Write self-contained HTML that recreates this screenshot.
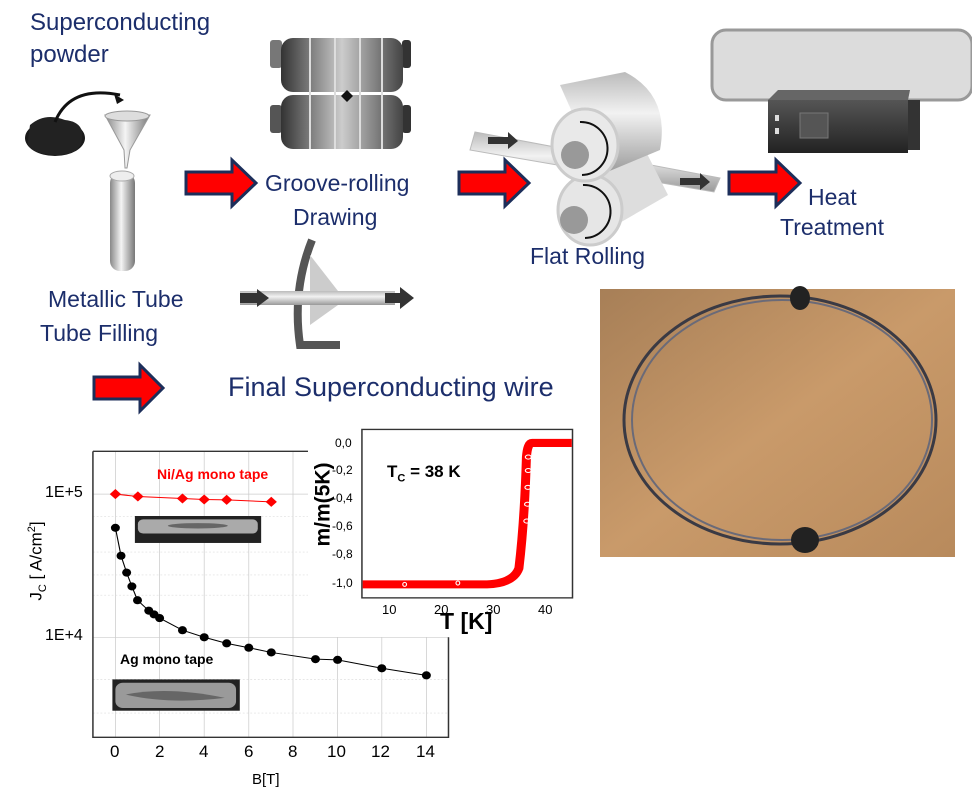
<!DOCTYPE html>
<html><head><meta charset="utf-8"><style>
body{margin:0;width:972px;height:801px;background:#fff;position:relative;overflow:hidden;font-family:"Liberation Sans",sans-serif}
.t{position:absolute;color:#1c2e6b;font-size:23px;white-space:nowrap;line-height:1}
.a{position:absolute;font-family:"Liberation Sans",sans-serif;white-space:nowrap;line-height:1}
svg{position:absolute;left:0;top:0}
</style></head><body>
<svg width="972" height="801" viewBox="0 0 972 801">
<defs>
<linearGradient id="cyl" x1="0" x2="1"><stop offset="0" stop-color="#888"/><stop offset=".45" stop-color="#f4f4f4"/><stop offset="1" stop-color="#777"/></linearGradient>
<linearGradient id="cylv" x1="0" y1="0" x2="0" y2="1"><stop offset="0" stop-color="#bbb"/><stop offset=".4" stop-color="#f2f2f2"/><stop offset="1" stop-color="#999"/></linearGradient>
<linearGradient id="roll" x1="0" x2="1"><stop offset="0" stop-color="#333"/><stop offset=".5" stop-color="#ccc"/><stop offset="1" stop-color="#444"/></linearGradient>
<linearGradient id="box" x1="0" y1="0" x2="0" y2="1"><stop offset="0" stop-color="#555"/><stop offset="1" stop-color="#222"/></linearGradient>
<linearGradient id="wood" x1="0" y1="0" x2="1" y2="1"><stop offset="0" stop-color="#a77f57"/><stop offset=".5" stop-color="#c99a6a"/><stop offset="1" stop-color="#b88a5c"/></linearGradient>
</defs>
<ellipse cx="55" cy="138" rx="30" ry="18" fill="#1a1a1a"/>
<path d="M30 125 Q45 112 65 120 Q85 122 82 140 Q80 155 55 155 Q25 153 28 140Z" fill="#222"/>
<path d="M55 122 Q70 85 120 95" fill="none" stroke="#111" stroke-width="3"/>
<path d="M124 100 l-10 -6 l3 10z" fill="#111"/>
<path d="M105 115 L150 115 L130 150 L127 168 L125 168 L124 150Z" fill="url(#cyl)" stroke="#999"/>
<ellipse cx="127" cy="116" rx="22" ry="5" fill="#ddd" stroke="#999"/>
<rect x="110" y="173" width="25" height="98" rx="10" fill="url(#cyl)"/>
<ellipse cx="122" cy="176" rx="12" ry="5" fill="#eee" stroke="#aaa"/>
<g fill="#f00" stroke="#1c2e5a" stroke-width="3">
<path d="M186 172 H232 V160 L256 183 L232 206 V194 H186Z"/>
<path d="M459 172 H505 V160 L529 183 L505 206 V194 H459Z"/>
<path d="M729 172 H776 V160 L800 183 L776 206 V194 H729Z"/>
<path d="M94 377 H140 V365 L163 388 L140 411 V399 H94Z"/>
</g>
<g>
<rect x="270" y="40" width="12" height="28" rx="3" fill="#777"/><rect x="270" y="105" width="12" height="28" rx="3" fill="#555"/>
<rect x="402" y="40" width="9" height="28" rx="3" fill="#333"/><rect x="402" y="105" width="9" height="28" rx="3" fill="#333"/>
<rect x="281" y="38" width="122" height="54" rx="12" fill="url(#roll)"/>
<rect x="281" y="95" width="122" height="54" rx="12" fill="url(#roll)"/>
<g stroke="#ddd" stroke-width="2"><line x1="310" y1="38" x2="310" y2="149"/><line x1="335" y1="38" x2="335" y2="149"/><line x1="360" y1="38" x2="360" y2="149"/><line x1="382" y1="38" x2="382" y2="149"/></g>
<path d="M347 90 l6 6 l-6 6 l-6 -6z" fill="#111"/>
</g>
<path d="M312 240 Q292 290 300 345 L340 345" fill="none" stroke="#555" stroke-width="8"/>
<path d="M310 255 L345 300 L310 325Z" fill="#ccc"/>
<rect x="240" y="291" width="155" height="14" fill="url(#cylv)"/>
<path d="M240 293 h17 v-4 l12 9 l-12 9 v-4 h-17z" fill="#333"/>
<path d="M385 293 h15 v-6 l14 11 l-14 11 v-6 h-15z" fill="#333"/>
<path d="M475 132 L720 178 L714 192 L470 150Z" fill="url(#cylv)" stroke="#bbb"/>
<path d="M488 137 h20 v-5 l10 9 l-10 8 v-5 h-20z" fill="#333"/>
<path d="M680 178 h20 v-5 l10 9 l-10 8 v-5 h-20z" fill="#333"/>
<path d="M565 160 L640 140 L668 195 L590 240Z" fill="#ddd"/>
<ellipse cx="590" cy="210" rx="32" ry="35" fill="#e6e6e6" stroke="#ccc" stroke-width="3"/>
<circle cx="574" cy="220" r="14" fill="#999"/>
<path d="M560 85 L625 72 Q670 95 660 150 L600 175Z" fill="url(#cylv)"/>
<ellipse cx="585" cy="145" rx="33" ry="36" fill="#e9e9e9" stroke="#ccc" stroke-width="3"/>
<circle cx="575" cy="155" r="14" fill="#999"/>
<path d="M580 122 A25 25 0 0 1 582 175" fill="none" stroke="#111" stroke-width="2"/>
<path d="M583 185 A25 25 0 0 1 585 238" fill="none" stroke="#111" stroke-width="2"/>
<rect x="712" y="30" width="260" height="70" rx="14" fill="#dcdcdc" stroke="#999" stroke-width="3"/>
<rect x="768" y="100" width="140" height="53" fill="url(#box)"/>
<path d="M768 100 L778 90 L910 90 L908 100Z" fill="#666"/>
<rect x="908" y="100" width="12" height="50" fill="#333"/>
<rect x="800" y="113" width="28" height="25" fill="#555" stroke="#777"/>
<rect x="775" y="115" width="4" height="6" fill="#ddd"/><rect x="775" y="128" width="4" height="6" fill="#ddd"/>
<rect x="600" y="289" width="355" height="268" fill="url(#wood)"/>
<ellipse cx="780" cy="420" rx="156" ry="124" fill="none" stroke="#3a3a44" stroke-width="3"/>
<ellipse cx="782" cy="420" rx="150" ry="120" fill="none" stroke="#6a6a78" stroke-width="2"/>
<ellipse cx="800" cy="298" rx="10" ry="12" fill="#222"/>
<ellipse cx="805" cy="540" rx="14" ry="13" fill="#222"/>
</svg>

<svg width="580" height="381" viewBox="0 0 1548 1131" preserveAspectRatio="none" style="left:0;top:420px">
<g stroke="#ccc" stroke-width="2">
<line x1="308" y1="93" x2="308" y2="942"/><line x1="426" y1="93" x2="426" y2="942"/><line x1="545" y1="93" x2="545" y2="942"/><line x1="664" y1="93" x2="664" y2="942"/><line x1="782" y1="93" x2="782" y2="942"/><line x1="901" y1="645" x2="901" y2="942"/><line x1="1019" y1="645" x2="1019" y2="942"/><line x1="1138" y1="645" x2="1138" y2="942"/>
<line x1="248" y1="220" x2="822" y2="220"/><line x1="248" y1="645" x2="1197" y2="645"/>
</g>
<g stroke="#ddd" stroke-width="2" stroke-dasharray="5 5">
<line x1="248" y1="392" x2="822" y2="392"/><line x1="248" y1="520" x2="822" y2="520"/><line x1="248" y1="770" x2="1197" y2="770"/><line x1="248" y1="870" x2="1197" y2="870"/><line x1="248" y1="286" x2="822" y2="286"/><line x1="248" y1="460" x2="822" y2="460"/>
</g>
<path d="M248 93 H822 M248 93 V942 H1197 V645" fill="none" stroke="#333" stroke-width="4"/>
<rect x="360" y="285" width="337" height="80" fill="#222"/><rect x="368" y="295" width="320" height="42" rx="14" fill="#aaa"/><ellipse cx="528" cy="314" rx="80" ry="8" fill="#666"/>
<rect x="300" y="770" width="340" height="93" fill="#222"/><rect x="308" y="780" width="322" height="75" rx="20" fill="#9a9a9a"/><path d="M335 815 Q450 790 600 825 Q450 845 335 815Z" fill="#666"/>
<polyline points="308,220 368,227 487,233 545,236 605,237 724,243" fill="none" stroke="#f00" stroke-width="3"/>
<g fill="#f00"><path d="M308 205 l15 15 l-15 15 l-15 -15z"/><path d="M368 212 l15 15 l-15 15 l-15 -15z"/><path d="M487 218 l15 15 l-15 15 l-15 -15z"/><path d="M545 221 l15 15 l-15 15 l-15 -15z"/><path d="M605 222 l15 15 l-15 15 l-15 -15z"/><path d="M724 228 l15 15 l-15 15 l-15 -15z"/></g>
<polyline points="308,320 323,403 338,453 352,494 367,535 397,566 411,577 426,588 487,624 545,645 605,663 664,676 724,690 842,710 901,712 1019,737 1138,758" fill="none" stroke="#000" stroke-width="3"/>
<g fill="#000"><circle cx="308" cy="320" r="12"/><circle cx="323" cy="403" r="12"/><circle cx="338" cy="453" r="12"/><circle cx="352" cy="494" r="12"/><circle cx="367" cy="535" r="12"/><circle cx="397" cy="566" r="12"/><circle cx="411" cy="577" r="12"/><circle cx="426" cy="588" r="12"/><circle cx="487" cy="624" r="12"/><circle cx="545" cy="645" r="12"/><circle cx="605" cy="663" r="12"/><circle cx="664" cy="676" r="12"/><circle cx="724" cy="690" r="12"/><circle cx="842" cy="710" r="12"/><circle cx="901" cy="712" r="12"/><circle cx="1019" cy="737" r="12"/><circle cx="1138" cy="758" r="12"/></g>
<rect x="966" y="28" width="562" height="500" fill="#fff" stroke="#333" stroke-width="4"/>
<path d="M968 488 H1300 Q1370 485 1385 440 Q1400 300 1405 110 Q1408 68 1420 68 H1526" fill="none" stroke="#f00" stroke-width="24"/>
<g fill="none" stroke="#fff" stroke-width="3"><ellipse cx="1410" cy="110" rx="8" ry="6"/><ellipse cx="1410" cy="150" rx="8" ry="6"/><ellipse cx="1409" cy="200" rx="8" ry="6"/><ellipse cx="1408" cy="250" rx="8" ry="6"/><ellipse cx="1406" cy="300" rx="8" ry="6"/><ellipse cx="1080" cy="488" rx="5" ry="6"/><ellipse cx="1222" cy="484" rx="5" ry="6"/></g>
</svg>

<div class="t" style="left:30px;top:11px;font-size:24px">Superconducting</div>
<div class="t" style="left:30px;top:43px;font-size:24px">powder</div>
<div class="t" style="left:48px;top:288px">Metallic Tube</div>
<div class="t" style="left:40px;top:322px">Tube Filling</div>
<div class="t" style="left:265px;top:172px">Groove-rolling</div>
<div class="t" style="left:293px;top:206px">Drawing</div>
<div class="t" style="left:530px;top:245px">Flat Rolling</div>
<div class="t" style="left:808px;top:186px">Heat</div>
<div class="t" style="left:780px;top:216px">Treatment</div>
<div class="t" style="left:228px;top:374px;font-size:27px">Final Superconducting wire</div>

<div class="a" style="left:157px;top:467px;color:#f00;font-size:14px;font-weight:bold">Ni/Ag mono tape</div>
<div class="a" style="left:120px;top:652px;color:#000;font-size:14px;font-weight:bold">Ag mono tape</div>
<div class="a" style="left:45px;top:485px;font-size:16px">1E+5</div>
<div class="a" style="left:45px;top:628px;font-size:16px">1E+4</div>
<div class="a" style="left:-22px;top:550px;font-size:17px;transform:rotate(-90deg);width:120px;text-align:center">J<sub style="font-size:11px">C</sub> [ A/cm<sup style="font-size:11px">2</sup>]</div>
<div class="a" style="top:743px;left:110px;font-size:17px">0</div>
<div class="a" style="top:743px;left:155px;font-size:17px">2</div>
<div class="a" style="top:743px;left:199px;font-size:17px">4</div>
<div class="a" style="top:743px;left:244px;font-size:17px">6</div>
<div class="a" style="top:743px;left:288px;font-size:17px">8</div>
<div class="a" style="top:743px;left:327px;font-size:17px">10</div>
<div class="a" style="top:743px;left:371px;font-size:17px">12</div>
<div class="a" style="top:743px;left:416px;font-size:17px">14</div>
<div class="a" style="top:772px;left:252px;font-size:15px">B[T]</div>

<div class="a" style="left:387px;top:463px;font-size:17px;font-weight:bold">T<sub style="font-size:11px">C</sub> = 38 K</div>
<div class="a" style="left:281px;top:494px;font-size:21px;font-weight:bold;transform:rotate(-90deg)">m/m(5K)</div>
<div class="a" style="left:335px;top:437px;font-size:12px">0,0</div>
<div class="a" style="left:332px;top:464px;font-size:12px">-0,2</div>
<div class="a" style="left:332px;top:492px;font-size:12px">-0,4</div>
<div class="a" style="left:332px;top:520px;font-size:12px">-0,6</div>
<div class="a" style="left:332px;top:548px;font-size:12px">-0,8</div>
<div class="a" style="left:332px;top:577px;font-size:12px">-1,0</div>
<div class="a" style="left:382px;top:603px;font-size:13px">10</div>
<div class="a" style="left:434px;top:603px;font-size:13px">20</div>
<div class="a" style="left:486px;top:603px;font-size:13px">30</div>
<div class="a" style="left:538px;top:603px;font-size:13px">40</div>
<div class="a" style="left:440px;top:610px;font-size:23px;font-weight:bold">T [K]</div>
</body></html>
